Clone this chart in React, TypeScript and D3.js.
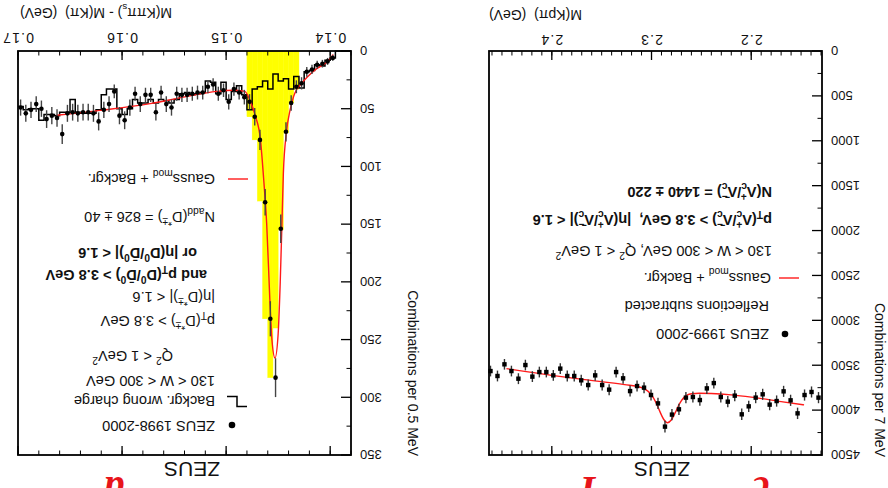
import * as d3 from 'd3'

const W = 888
const H = 488

// ---- Lambda_c panel: M(K p pi), 7 MeV bins ----
const LC_BIN_START = 2.129
const LC_BIN_WIDTH = 0.007
const LC_COUNTS = [
  3861, 3798, 3832, 4036, 3891, 3791, 3899, 3939, 3824, 3861, 3958, 4047,
  3839, 3906, 3854, 3699, 3758, 3888, 3854, 3861, 3991, 4050, 4184, 3925,
  3832, 3750, 3732, 3788, 3646, 3576, 3772, 3721, 3613, 3721, 3668, 3620,
  3620, 3538, 3613, 3576, 3576, 3627, 3498, 3650, 3565, 3490, 3620, 3565,
]
const LC_FIT: [number, number][] = [
  [2.147, 3942], [2.17, 3905], [2.2, 3855], [2.22, 3830], [2.24, 3815], [2.252, 3812],
  [2.26, 3818], [2.264, 3830], [2.268, 3865], [2.272, 3931], [2.276, 4023], [2.28, 4107],
  [2.284, 4140], [2.288, 4099], [2.292, 4006], [2.296, 3905], [2.3, 3830], [2.304, 3786],
  [2.31, 3750], [2.327, 3716], [2.367, 3661], [2.4, 3613], [2.4455, 3538],
]
const LC_X_TICKS = [2.2, 2.3, 2.4]
const LC_Y_TICKS = [0, 500, 1000, 1500, 2000, 2500, 3000, 3500, 4000, 4500]

// ---- D* panel: M(K pi pi_s) - M(K pi), 0.5 MeV bins ----
const DS_BIN_START = 0.138
const DS_BIN_WIDTH = 0.0005
const DS_DATA: (number | null)[] = [
  null, null, null, 6, 9, 11, 12, 16, 18, 28, 31, 45, 70, 154, 283, 232,
  131, 77, 57, 44, 40, 36, 33, 44, 34, 37, 29, 31, 36, 36, 37, 38,
  38, 37, 49, 46, 36, 53, 38, 38, 46, 37, 49, 60, 56, 35, 46, 51,
  61, 54, 53, 53, 54, 53, 54, 72, 58, 56, 59, 50, 46, 51, 54, 49,
]
const DS_WRONG = [
  0, 0, 0, 6, 8, 13, 12, 17, 18, 32, 22, 33, 24, 26, 20, 33,
  26, 31, 33, 51, 38, 30, 35, 42, 27, 37, 27, 26, 36, 37, 38, 36,
  37, 42, 45, 43, 42, 45, 42, 45, 45, 42, 50, 55, 50, 33, 33, 38,
  51, 54, 54, 54, 53, 42, 53, 53, 56, 55, 55, 60, 50, 50, 51, 48,
]
const DS_SIGNAL_START = 0.143
const DS_SIGNAL = [33, 45, 71, 155, 240, 283, 232, 130, 77, 57]
const DS_FIT: [number, number][] = [
  [0.1397, 3], [0.1403, 9.5], [0.1413, 15.3], [0.1422, 22.5], [0.1429, 29.7], [0.1432, 33],
  [0.1435, 39], [0.14385, 51], [0.1442, 70], [0.1445, 106], [0.14465, 154], [0.1448, 200],
  [0.145, 245], [0.1453, 266], [0.1456, 250], [0.1458, 215], [0.1461, 150], [0.1464, 110],
  [0.1467, 77], [0.1472, 56], [0.1477, 43], [0.1482, 35], [0.1493, 34], [0.1509, 35],
  [0.1541, 40], [0.1573, 45.6], [0.1621, 51.4], [0.1663, 55.7],
]
const DS_X_TICKS = [0.14, 0.15, 0.16, 0.17]
const DS_Y_TICKS = [0, 50, 100, 150, 200, 250, 300, 350]

const TOP = 33
const BOTTOM = 437
const RED = '#ff1a1a'
const FS = 14.6

type Seg = { t: string; k?: 'sub' | 'sup'; dx?: number }

function Rich({ x, y, segs, size = FS, bold = false, anchor }: { x: number; y: number; segs: Seg[]; size?: number; bold?: boolean; anchor?: string }) {
  let cur = 0
  return (
    <text x={x} y={y} fontSize={size} fontWeight={bold ? 'bold' : 'normal'} textAnchor={anchor} style={{ whiteSpace: 'pre' }} fill="#111">
      {segs.map((s, i) => {
        const target = s.k === 'sup' ? -0.42 * size : s.k === 'sub' ? 0.3 * size : 0
        const dy = target - cur
        cur = target
        return (
          <tspan key={i} dy={dy || undefined} dx={s.dx} fontSize={s.k ? size * 0.7 : size}>{s.t}</tspan>
        )
      })}
    </text>
  )
}

function Axes({ x, y, xMajor, xMinor, yMajor, yMinor, xFmt, xLabelY }: {
  x: d3.ScaleLinear<number, number>; y: d3.ScaleLinear<number, number>
  xMajor: number[]; xMinor: number[]; yMajor: number[]; yMinor: number[]
  xFmt: (v: number) => string; xLabelY: number
}) {
  const [x0, x1] = x.range()
  const [y0, y1] = y.range()
  return (
    <g stroke="#000">
      {xMinor.map((v, i) => (
        <g key={'xm' + i} strokeWidth={1}>
          <line x1={x(v)} x2={x(v)} y1={y0} y2={y0 - 4.5} />
          <line x1={x(v)} x2={x(v)} y1={y1} y2={y1 + 4.5} />
        </g>
      ))}
      {xMajor.map((v, i) => (
        <g key={'xM' + i} strokeWidth={1.3}>
          <line x1={x(v)} x2={x(v)} y1={y0} y2={y0 - 9} />
          <line x1={x(v)} x2={x(v)} y1={y1} y2={y1 + 9} />
          <text x={x(v)} y={xLabelY} stroke="none" fill="#111" fontSize={14} textAnchor="middle" letterSpacing={1.2}>{xFmt(v)}</text>
        </g>
      ))}
      {yMinor.map((v, i) => (
        <line key={'ym' + i} x1={x0} x2={x0 + 4.5} y1={y(v)} y2={y(v)} strokeWidth={1} />
      ))}
      {yMajor.map((v, i) => (
        <g key={'yM' + i}>
          <line x1={x0} x2={x0 + 10} y1={y(v)} y2={y(v)} strokeWidth={1.3} />
          <text x={x0 - 9} y={y(v)} dy="0.36em" stroke="none" fill="#111" fontSize={13} textAnchor="end">{v}</text>
        </g>
      ))}
      <rect x={x0} y={y1} width={x1 - x0} height={y0 - y1} fill="none" strokeWidth={1.8} />
    </g>
  )
}

function LambdaPanel() {
  const x = d3.scaleLinear().domain([2.129, 2.463]).range([66, 399])
  const y = d3.scaleLinear().domain([0, 4500]).range([BOTTOM, TOP])
  const fit = d3.line<[number, number]>().x(d => x(d[0])).y(d => y(d[1])).curve(d3.curveMonotoneX)
  const pts = LC_COUNTS.map((n, i) => ({ m: LC_BIN_START + LC_BIN_WIDTH * (i + 0.5), n }))
  const lc: Seg[] = [{ t: 'Λ' }, { t: '+', k: 'sup' }, { t: 'c', k: 'sub', dx: -6 }]
  const lcb: Seg[] = [{ t: 'Λ̄' }, { t: '−', k: 'sup' }, { t: 'c', k: 'sub', dx: -6 }]
  return (
    <g>
      <path d={fit(LC_FIT) ?? ''} fill="none" stroke={RED} strokeWidth={1.4} />
      {pts.map((p, i) => {
        const e = Math.sqrt(p.n)
        return (
          <g key={i}>
            <line x1={x(p.m)} x2={x(p.m)} y1={y(p.n - e)} y2={y(p.n + e)} stroke="#333" strokeWidth={1.4} />
            <rect x={x(p.m) - 2.2} y={y(p.n) - 2.2} width={4.4} height={4.4} fill="#000" />
          </g>
        )
      })}
      <Axes x={x} y={y} xMajor={LC_X_TICKS} xMinor={d3.range(2.13, 2.4605, 0.01)} yMajor={LC_Y_TICKS}
        yMinor={d3.range(250, 4500, 500)} xFmt={v => v.toFixed(1)} xLabelY={453} />
      <Rich x={399} y={478} size={14} anchor="end" segs={[{ t: 'M(Kpπ)  (GeV)' }]} />
      <text transform="translate(13,31) rotate(-90)" textAnchor="end" fontSize={14} fill="#111">Combinations per 7 MeV</text>
      <text x={226} y={26} textAnchor="middle" fontSize={21} fill="#111">ZEUS</text>
      <circle cx={103} cy={154} r={3.3} fill="#000" />
      <Rich x={119} y={159} segs={[{ t: 'ZEUS 1999-2000' }]} />
      <Rich x={119} y={187} segs={[{ t: 'Reflections subtracted' }]} />
      <line x1={89} x2={109} y1={210} y2={210} stroke={RED} strokeWidth={1.4} />
      <Rich x={117} y={215.5} segs={[{ t: 'Gauss' }, { t: 'mod', k: 'sub' }, { t: ' + Backgr.' }]} />
      <Rich x={116} y={242} segs={[{ t: '130 < W < 300 GeV, Q' }, { t: '2', k: 'sup' }, { t: ' < 1 GeV' }, { t: '2', k: 'sup' }]} />
      <Rich x={116} y={273} bold segs={[{ t: 'p' }, { t: 'T', k: 'sub' }, { t: '(' }, ...lc, { t: '/' }, ...lcb,
        { t: ') > 3.8 GeV,  |η(' }, ...lc, { t: '/' }, ...lcb, { t: ')| < 1.6' }]} />
      <Rich x={116} y={301} bold segs={[{ t: 'N(' }, ...lc, { t: '/' }, ...lcb, { t: ') = 1440 ± 220' }]} />
    </g>
  )
}

function DStarPanel() {
  const x = d3.scaleLinear().domain([0.138, 0.17]).range([537, 870])
  const y = d3.scaleLinear().domain([0, 350]).range([BOTTOM, TOP])
  const fit = d3.line<[number, number]>().x(d => x(d[0])).y(d => y(d[1])).curve(d3.curveMonotoneX)
  const histPts: [number, number][] = DS_WRONG.map((v, i) => [DS_BIN_START + DS_BIN_WIDTH * i, v])
  histPts.push([DS_BIN_START + DS_BIN_WIDTH * DS_WRONG.length, DS_WRONG[DS_WRONG.length - 1]])
  const hist = d3.line<[number, number]>().x(d => x(d[0])).y(d => y(d[1])).curve(d3.curveStepAfter)
  const ds: Seg[] = [{ t: '(D' }, { t: '*±', k: 'sup' }, { t: ')' }]
  const d0: Seg[] = [{ t: '(D' }, { t: '0', k: 'sup' }, { t: '/D̄' }, { t: '0', k: 'sup' }, { t: ')' }]
  return (
    <g>
      {DS_SIGNAL.map((v, i) => {
        const a = DS_SIGNAL_START + DS_BIN_WIDTH * i
        return <rect key={i} x={x(a)} y={y(v)} width={x(a + DS_BIN_WIDTH) - x(a)} height={y(0) - y(v)} fill="#ffff00" stroke="#ffff00" strokeWidth={0.4} />
      })}
      <path d={hist(histPts) ?? ''} fill="none" stroke="#000" strokeWidth={1.5} />
      <path d={fit(DS_FIT) ?? ''} fill="none" stroke={RED} strokeWidth={1.4} />
      {DS_DATA.map((n, i) => {
        if (n == null) return null
        const m = DS_BIN_START + DS_BIN_WIDTH * (i + 0.5)
        const e = Math.sqrt(n)
        return (
          <g key={i}>
            <line x1={x(m)} x2={x(m)} y1={y(n - e)} y2={y(n + e)} stroke="#444" strokeWidth={1.4} />
            <circle cx={x(m)} cy={y(n)} r={2.3} fill="#000" />
          </g>
        )
      })}
      <Axes x={x} y={y} xMajor={DS_X_TICKS} xMinor={d3.range(0.138, 0.1701, 0.002)} yMajor={DS_Y_TICKS}
        yMinor={d3.range(25, 350, 50)} xFmt={v => v.toFixed(2)} xLabelY={455} />
      <Rich x={868} y={480} size={14} anchor="end" segs={[{ t: 'M(Kππ' }, { t: 's', k: 'sub' }, { t: ') - M(Kπ)  (GeV)' }]} />
      <text transform="translate(480,32) rotate(-90)" textAnchor="end" fontSize={14} fill="#111">Combinations per 0.5 MeV</text>
      <text x={696} y={26} textAnchor="middle" fontSize={21} fill="#111">ZEUS</text>
      <circle cx={656} cy={63} r={3.3} fill="#000" />
      <Rich x={673} y={67} segs={[{ t: 'ZEUS 1998-2000' }]} />
      <path d="M641,81.5 H651 V91.5 H661" fill="none" stroke="#000" strokeWidth={1.5} />
      <Rich x={673} y={92} segs={[{ t: 'Backgr. wrong charge' }]} />
      <Rich x={673} y={112} segs={[{ t: '130 < W < 300 GeV' }]} />
      <Rich x={715} y={137} segs={[{ t: 'Q' }, { t: '2', k: 'sup' }, { t: ' < 1 GeV' }, { t: '2', k: 'sup' }]} />
      <Rich x={673} y={172} segs={[{ t: 'p' }, { t: 'T', k: 'sub' }, ...ds, { t: ' > 3.8 GeV' }]} />
      <Rich x={673} y={196} segs={[{ t: '|η' }, ...ds, { t: '| < 1.6' }]} />
      <Rich x={681} y={218} bold segs={[{ t: 'and p' }, { t: 'T', k: 'sub' }, ...d0, { t: ' > 3.8 GeV' }]} />
      <Rich x={691} y={240} bold segs={[{ t: 'or |η' }, ...d0, { t: '| < 1.6' }]} />
      <Rich x={673} y={276} segs={[{ t: 'N' }, { t: 'add', k: 'sub' }, ...ds, { t: ' = 826 ± 40' }]} />
      <line x1={640} x2={660} y1={309} y2={309} stroke={RED} strokeWidth={1.4} />
      <Rich x={673} y={314} segs={[{ t: 'Gauss' }, { t: 'mod', k: 'sub' }, { t: ' + Backgr.' }]} />
    </g>
  )
}

export default function App() {
  return (
    <svg width={W} height={H} viewBox={`0 0 ${W} ${H}`}
      style={{ position: 'absolute', left: 0, top: 0, background: '#fff' }}
      fontFamily="'Liberation Sans', Arial, Helvetica, sans-serif">
      <g transform={`rotate(180 ${W / 2} ${H / 2})`}>
        <LambdaPanel />
        <DStarPanel />
        {/* bottoms of the large red captions, cut off by the page edge */}
        <g fill="#e8141a" fontFamily="'Liberation Serif', serif" fontStyle="italic" fontWeight="bold" fontSize={40} textAnchor="middle">
          <text x={128} y={11}>c</text>
          <text x={300} y={11}>I</text>
          <text x={774} y={11}>a</text>
        </g>
      </g>
    </svg>
  )
}
